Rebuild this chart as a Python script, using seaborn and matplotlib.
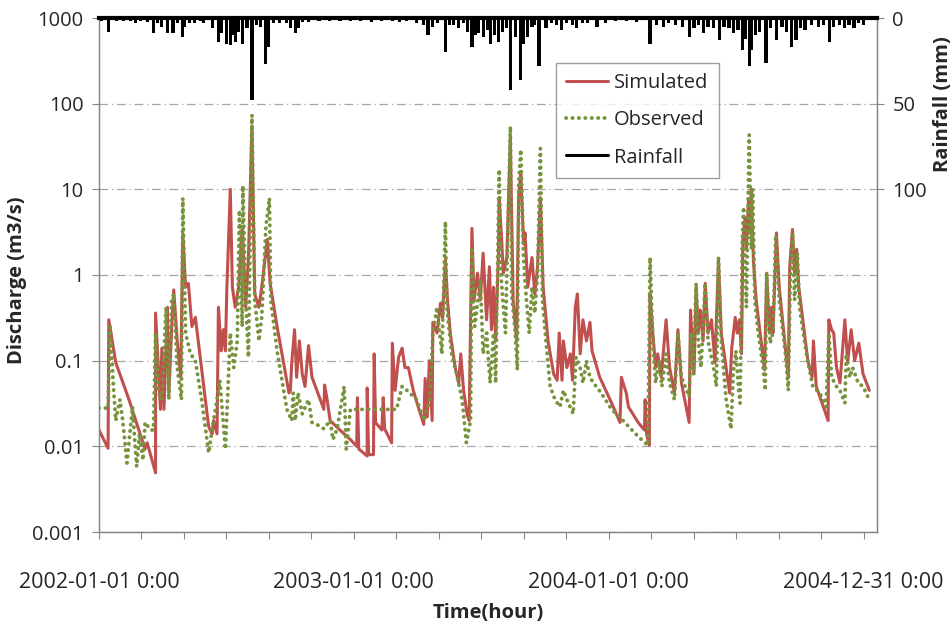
import matplotlib
matplotlib.use("Agg")
import matplotlib.pyplot as plt
import seaborn as sns
import pandas as pd
from matplotlib.lines import Line2D
from matplotlib.ticker import NullLocator

# day index from 2002-01-01 0:00, discharge m3/s
sim_day = [0, 13, 14, 24, 43, 57, 66, 69, 81, 81, 88, 90, 93, 98, 100, 104, 107, 112, 117, 120,
           124, 128, 133, 138, 157, 162, 164, 169, 171, 175, 178, 181, 183, 188, 191, 195, 200, 205, 210, 214,
           219, 223, 229, 233, 241, 245, 255, 272, 274, 276, 280, 283, 287, 291, 295, 300, 305, 322, 323, 326,
           331, 345, 360, 369, 370, 372, 384, 384, 386, 393, 394, 396, 405, 407, 409, 419, 420, 424, 429, 434,
           438, 443, 450, 457, 465, 467, 470, 473, 477, 478, 484, 489, 492, 496, 499, 503, 510, 515, 518, 522,
           527, 530, 534, 537, 542, 546, 550, 555, 559, 562, 565, 568, 572, 573, 576, 579, 584, 589, 593, 598,
           601, 604, 608, 610, 614, 620, 624, 628, 632, 636, 643, 651, 656, 659, 663, 665, 670, 675, 678, 682,
           685, 689, 693, 698, 703, 706, 717, 734, 746, 748, 752, 755, 758, 772, 781, 782, 784, 788, 789, 793,
           797, 800, 805, 812, 817, 824, 829, 834, 845, 847, 852, 855, 858, 861, 865, 868, 872, 877, 882, 887,
           891, 903, 906, 911, 914, 917, 920, 922, 925, 927, 930, 932, 934, 937, 941, 948, 953, 956, 960, 963,
           965, 970, 974, 987, 989, 993, 996, 999, 1002, 1015, 1021, 1023, 1027, 1044, 1045, 1049, 1052, 1056, 1061, 1068,
           1072, 1077, 1082, 1088, 1094, 1103]
sim_q = [0.0155, 0.0095, 0.30, 0.095, 0.035, 0.0155, 0.0093, 0.011, 0.0049, 0.36, 0.027, 0.14, 0.027, 0.42, 0.042, 0.23, 0.67, 0.17, 0.064, 3.0,
         0.72, 0.8, 0.25, 0.32, 0.017, 0.014, 0.020, 0.014, 0.42, 0.13, 0.23, 0.13, 0.67, 10, 0.72, 0.42, 0.72, 3.7, 0.42, 1.6,
         55, 0.6, 0.42, 0.72, 2.6, 0.8, 0.25, 0.042, 0.045, 0.095, 0.23, 0.064, 0.17, 0.07, 0.05, 0.15, 0.064, 0.027, 0.052, 0.038,
         0.020, 0.0155, 0.012, 0.010, 0.037, 0.0093, 0.0077, 0.048, 0.008, 0.008, 0.12, 0.019, 0.0155, 0.037, 0.016, 0.011, 0.16, 0.045, 0.11, 0.14,
         0.083, 0.083, 0.045, 0.029, 0.018, 0.062, 0.022, 0.10, 0.020, 0.28, 0.21, 0.47, 0.32, 1.5, 0.51, 0.21, 0.083, 0.055, 0.12, 0.045,
         0.024, 0.020, 3.5, 0.51, 1.05, 0.51, 1.8, 0.30, 1.25, 0.23, 0.72, 0.17, 1.8, 8, 3.1, 1.05, 1.6, 40, 0.51, 0.17,
         9.1, 15, 2.3, 3.1, 0.72, 1.6, 0.6, 1.25, 8, 0.72, 0.17, 0.07, 0.059, 0.21, 0.059, 0.17, 0.083, 0.12, 0.059, 0.42,
         0.6, 0.12, 0.30, 0.17, 0.28, 0.13, 0.064, 0.032, 0.019, 0.064, 0.05, 0.042, 0.029, 0.019, 0.0155, 0.035, 0.014, 0.0103, 0.6, 0.21,
         0.083, 0.12, 0.064, 0.30, 0.083, 0.042, 0.23, 0.055, 0.019, 0.39, 0.07, 0.72, 0.21, 0.39, 0.17, 0.8, 0.21, 0.30, 0.095, 1.5,
         0.21, 0.042, 0.14, 0.32, 0.21, 0.30, 0.12, 2.6, 4.6, 2.0, 7.5, 3.1, 10, 1.5, 0.51, 0.17, 0.078, 1.05, 0.21, 0.42,
         0.21, 3.1, 0.72, 0.064, 1.25, 3.4, 1.05, 2.0, 0.72, 0.10, 0.064, 0.17, 0.05, 0.020, 0.30, 0.23, 0.21, 0.083, 0.055, 0.30,
         0.095, 0.23, 0.10, 0.16, 0.07, 0.045]

obs_day = [0, 13, 16, 21, 24, 30, 34, 40, 48, 52, 54, 58, 63, 66, 74, 78, 81, 85, 90, 96,
           100, 104, 107, 112, 118, 120, 124, 131, 138, 147, 157, 164, 169, 173, 181, 184, 188, 193, 198, 201,
           205, 206, 210, 214, 219, 223, 229, 233, 239, 244, 246, 255, 269, 276, 278, 281, 285, 291, 300, 305,
           312, 322, 331, 335, 341, 351, 354, 360, 426, 434, 441, 455, 465, 474, 478, 484, 491, 496, 498, 505,
           512, 520, 526, 532, 534, 538, 546, 550, 555, 560, 565, 568, 573, 576, 579, 582, 589, 591, 596, 599,
           601, 604, 608, 612, 616, 620, 624, 628, 632, 635, 639, 646, 653, 660, 665, 670, 679, 683, 689, 693,
           698, 703, 708, 719, 734, 753, 772, 786, 789, 793, 797, 802, 806, 812, 817, 824, 829, 834, 845, 848,
           851, 855, 858, 862, 868, 872, 880, 884, 887, 891, 898, 905, 908, 912, 916, 918, 921, 923, 927, 931,
           934, 936, 939, 944, 951, 954, 956, 961, 965, 969, 974, 983, 987, 990, 993, 996, 1000, 1003, 1013, 1022,
           1032, 1041, 1045, 1049, 1056, 1061, 1068, 1070, 1075, 1079, 1087, 1094, 1103]
obs_q = [0.028, 0.028, 0.25, 0.045, 0.020, 0.035, 0.020, 0.0064, 0.029, 0.0093, 0.0058, 0.014, 0.0069, 0.019, 0.0155, 0.0155, 0.21, 0.042, 0.035, 0.42,
         0.035, 0.51, 0.6, 0.083, 0.035, 7.9, 0.21, 0.12, 0.10, 0.035, 0.0084, 0.020, 0.035, 0.059, 0.0093, 0.035, 0.21, 0.083, 0.17, 5.7,
         0.25, 11, 0.51, 0.11, 74, 0.51, 0.17, 0.32, 3.7, 7.9, 0.51, 0.13, 0.027, 0.020, 0.042, 0.020, 0.042, 0.024, 0.035, 0.019,
         0.018, 0.016, 0.020, 0.012, 0.016, 0.05, 0.0093, 0.027, 0.027, 0.05, 0.045, 0.035, 0.020, 0.035, 0.21, 0.42, 0.12, 4.2, 0.42, 0.12,
         0.07, 0.035, 0.011, 0.020, 2.1, 0.25, 0.87, 0.12, 0.21, 0.055, 0.21, 0.055, 17, 0.9, 0.42, 0.21, 54, 0.6, 0.21, 0.078,
         12, 29, 1.5, 0.51, 0.21, 0.72, 0.36, 1.05, 30, 0.51, 0.21, 0.05, 0.035, 0.029, 0.045, 0.035, 0.024, 0.11, 0.083, 0.055,
         0.10, 0.064, 0.055, 0.042, 0.027, 0.019, 0.013, 0.0103, 1.6, 0.17, 0.055, 0.10, 0.05, 0.12, 0.055, 0.035, 0.21, 0.064, 0.038, 0.21,
         0.07, 0.8, 0.17, 0.083, 0.8, 0.17, 0.083, 0.05, 1.6, 0.17, 0.035, 0.016, 0.07, 0.13, 0.045, 0.032, 2.3, 6.2, 0.42, 43,
         2.0, 10, 0.51, 0.21, 0.083, 0.045, 1.05, 0.16, 0.21, 2.9, 0.51, 0.12, 0.045, 1.05, 3.1, 0.51, 1.8, 0.42, 0.12, 0.05,
         0.042, 0.029, 0.21, 0.064, 0.05, 0.045, 0.032, 0.12, 0.064, 0.083, 0.055, 0.05, 0.035]

rain_day = [3, 14, 25, 35, 45, 52, 60, 70, 78, 84, 90, 98, 106, 112, 119, 123, 130, 137, 145, 150,
            162, 171, 176, 183, 188, 192, 195, 200, 205, 212, 219, 225, 231, 238, 243, 250, 258, 268, 274, 281,
            285, 292, 300, 315, 330, 345, 360, 375, 390, 405, 420, 430, 440, 455, 465, 471, 478, 485, 496, 502,
            508, 515, 522, 528, 534, 539, 543, 550, 556, 560, 566, 572, 578, 584, 589, 596, 603, 608, 613, 620,
            624, 630, 640, 648, 655, 662, 670, 678, 684, 692, 700, 713, 725, 740, 755, 770, 789, 798, 808, 815,
            825, 835, 846, 852, 858, 865, 872, 880, 889, 895, 902, 908, 915, 922, 926, 931, 934, 940, 946, 955,
            962, 970, 978, 985, 992, 998, 1005, 1011, 1020, 1030, 1038, 1046, 1052, 1060, 1067, 1074, 1081, 1088, 1095]
rain_mm = [2, 8, 2, 1.5, 2, 3, 2, 2.5, 8.5, 3, 5, 8.5, 8.5, 3, 11, 5, 3, 3, 2, 3,
           6, 14, 9, 15, 16, 10, 14, 8, 15, 6, 48, 4, 5, 27, 17, 3, 3, 3, 6, 9,
           6, 2.5, 2.5, 2, 2, 2, 2, 2, 2.5, 2, 2, 2.5, 2, 3, 4, 10, 5, 3, 20, 4,
           4, 6, 3, 8, 17, 10, 9, 11, 7, 15, 10, 14, 8, 6, 42, 11, 36, 15, 11, 5,
           4, 28, 6, 3, 4, 7, 3, 4, 6, 3, 3, 5, 3, 2, 2, 2.5, 15, 4, 5, 3,
           4, 5, 11, 6, 4, 9, 5, 6, 13, 5, 6, 9, 7, 18.6, 12, 28, 18.6, 10, 8, 26,
           6, 13, 5, 8, 17, 13, 6, 7, 4, 5, 4, 14, 5, 4, 6, 4, 6, 3, 4]

tick_step = 1460 / 24  # a tick every 1460 hours
date_labels = ["2002-01-01 0:00", "2003-01-01 0:00", "2004-01-01 0:00", "2004-12-31 0:00"]
q_ticks = [0.001, 0.01, 0.1, 1, 10, 100, 1000]
q_labels = ["0.001", "0.01", "0.1", "1", "10", "100", "1000"]
rain_ticks = [0, 50, 100]

RED = "#C0504D"
GREEN = "#77933C"
GREY = "#868686"
FS = 14.5
DOTS = (0, (0.05, 1.6))

sns.set_style("white")
plt.rcParams["font.family"] = ["Open Sans", "DejaVu Sans"]

fig = plt.figure(figsize=(9.53, 6.26), dpi=100)
ax = fig.add_axes([99 / 953, 94 / 626, 778 / 953, 514 / 626])

sim = pd.DataFrame({"day": sim_day, "q": sim_q})
obs = pd.DataFrame({"day": obs_day, "q": obs_q})
sns.lineplot(data=sim, x="day", y="q", ax=ax, color=RED, lw=2.2,
             estimator=None, sort=False)
sns.lineplot(data=obs, x="day", y="q", ax=ax, color=GREEN, lw=2.8, ls=DOTS,
             dash_capstyle="round", estimator=None, sort=False)

ax.set_yscale("log")
ax.set_ylim(0.001, 1000)
ax.set_yticks(q_ticks)
ax.set_yticklabels(q_labels)
ax.yaxis.set_minor_locator(NullLocator())
ax.set_xlim(0, 1114)
xt = [i * tick_step for i in range(19)]
ax.set_xticks(xt)
ax.set_xticklabels([date_labels[i // 6] if i % 6 == 0 else "" for i in range(19)])
ax.grid(False)
ax.yaxis.grid(True, color="#a6a6a6", lw=0.9, ls=(0, (7, 3, 1, 3)))
ax.set_axisbelow(True)
ax.tick_params(axis="y", left=True, length=5, color=GREY, labelsize=FS, pad=6)
ax.tick_params(axis="x", bottom=True, length=5, color=GREY, labelsize=15.5, pad=24)
for s in ["left", "bottom", "right"]:
    ax.spines[s].set_color(GREY)
    ax.spines[s].set_linewidth(1)
ax.spines["top"].set_visible(False)

ax.set_xlabel("Time(hour)", fontsize=FS, fontweight="bold")
ax.xaxis.set_label_coords(0.5, -0.138)
ax.set_ylabel("Discharge (m3/s)", fontsize=FS, fontweight="bold")
ax.yaxis.set_label_coords(-0.093, 0.49)

# rainfall hangs from the top on an inverted second axis
ax2 = ax.twinx()
ax2.bar(rain_day, rain_mm, width=4.5, color="black", linewidth=0)
ax2.set_ylim(300, 0)
ax2.set_yticks(rain_ticks)
ax2.set_yticklabels([str(t) for t in rain_ticks])
ax2.tick_params(axis="y", right=True, length=5, color=GREY, labelsize=FS, pad=6)
ax2.grid(False)
for s in ["left", "bottom", "right"]:
    ax2.spines[s].set_color(GREY)
ax2.spines["top"].set_color("black")
ax2.spines["top"].set_linewidth(3)
ax2.set_ylabel("Rainfall (mm)", fontsize=FS, fontweight="bold")
ax2.yaxis.set_label_coords(1.072, 0.833)

handles = [Line2D([], [], color=RED, lw=2.2),
           Line2D([], [], color=GREEN, lw=2.8, ls=DOTS, dash_capstyle="round"),
           Line2D([], [], color="black", lw=2.2)]
leg = ax2.legend(handles, ["Simulated", "Observed", "Rainfall"], loc="upper left",
                 bbox_to_anchor=(0.587, 0.912), fontsize=FS, frameon=True, fancybox=False,
                 edgecolor=GREY, handlelength=2.1, handletextpad=0.3, labelspacing=0.85,
                 borderpad=0.5, borderaxespad=0)
leg.get_frame().set_linewidth(1)

fig.savefig("out.png", dpi=100)
